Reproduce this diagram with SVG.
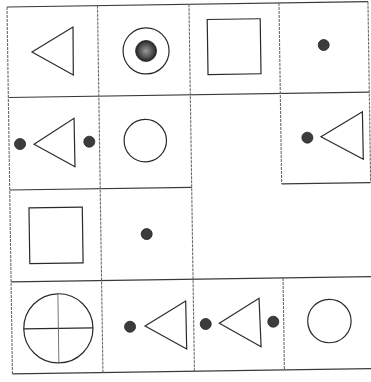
<svg xmlns="http://www.w3.org/2000/svg" width="371" height="382" viewBox="0 0 371 382">
<style>
.h{stroke:#3a3a3a;stroke-width:1.2;fill:none}
.v{stroke:#6a6a6a;stroke-width:1.1;fill:none;stroke-dasharray:3 1}
.s{stroke:#2a2a2a;stroke-width:1.2;fill:none}
.d{fill:#3c3c3c;stroke:#222;stroke-width:0.8}
</style>
<defs>
<radialGradient id="g" cx="0.5" cy="0.5" r="0.5">
<stop offset="0" stop-color="#9a9a9a"/>
<stop offset="0.6" stop-color="#555"/>
<stop offset="1" stop-color="#222"/>
</radialGradient>
</defs>
<rect width="371" height="382" fill="#fff"/>
<g transform="rotate(-0.85 7 7)">
<g id="grid">
<line class="h" x1="7" y1="7" x2="368" y2="7"/>
<line class="h" x1="7" y1="97.5" x2="368" y2="97.5"/>
<line class="h" x1="7" y1="190" x2="189" y2="190"/>
<line class="h" x1="279" y1="188" x2="368" y2="188"/>
<line class="h" x1="7" y1="282" x2="378" y2="282"/>
<line class="h" x1="7" y1="374" x2="378" y2="374"/>
<line class="v" x1="7" y1="7" x2="7" y2="374"/>
<line class="v" x1="97.5" y1="7" x2="97.5" y2="374"/>
<line class="v" x1="189" y1="7" x2="189" y2="374"/>
<line class="v" x1="279" y1="7" x2="279" y2="188"/>
<line class="v" x1="279" y1="282" x2="279" y2="374"/>
<line class="v" x1="368" y1="7" x2="368" y2="188"/>
</g>
<g id="c11"><polygon class="s" points="31.3,52.4 72.7,28 72.3,76"/></g>
<g id="c12"><circle class="s" cx="145.4" cy="53" r="23"/><circle cx="145.4" cy="53" r="10.5" fill="url(#g)" stroke="#222" stroke-width="0.8"/></g>
<g id="c13"><rect class="s" x="207" y="22.5" width="53" height="55"/></g>
<g id="c14"><circle class="d" cx="323.1" cy="49.7" r="5.5"/></g>
<g id="c21"><circle class="d" cx="18" cy="144.2" r="5.5"/><polygon class="s" points="32,144.7 72.4,119.3 72.6,167.7"/><circle class="d" cx="87.3" cy="142.9" r="5.5"/></g>
<g id="c22"><circle class="s" cx="143.3" cy="142.7" r="21.2"/></g>
<g id="c24"><circle class="d" cx="305.4" cy="142.1" r="5.5"/><polygon class="s" points="319,141.3 360.8,117 361,164.6"/></g>
<g id="c31"><rect class="s" x="26" y="208.2" width="53.3" height="55.8"/></g>
<g id="c32"><circle class="d" cx="143.3" cy="236.1" r="5.5"/></g>
<g id="c41"><circle class="s" cx="53.6" cy="329.1" r="34.6"/><line class="s" x1="19" y1="329.1" x2="88.2" y2="329.1"/><line x1="53.6" y1="294.5" x2="53.6" y2="363.7" stroke="#666" stroke-width="0.9"/></g>
<g id="c42"><circle class="d" cx="125.3" cy="328.5" r="5.5"/><polygon class="s" points="140.3,328 181.3,303.6 181.6,351.7"/></g>
<g id="c43"><circle class="d" cx="201" cy="326.9" r="5.5"/><polygon class="s" points="214.6,326.4 254.7,302 256,350.5"/><circle class="d" cx="268.6" cy="325.6" r="5.5"/></g>
<g id="c44"><circle class="s" cx="324.7" cy="325.8" r="21.7"/></g>
</g>
</svg>
